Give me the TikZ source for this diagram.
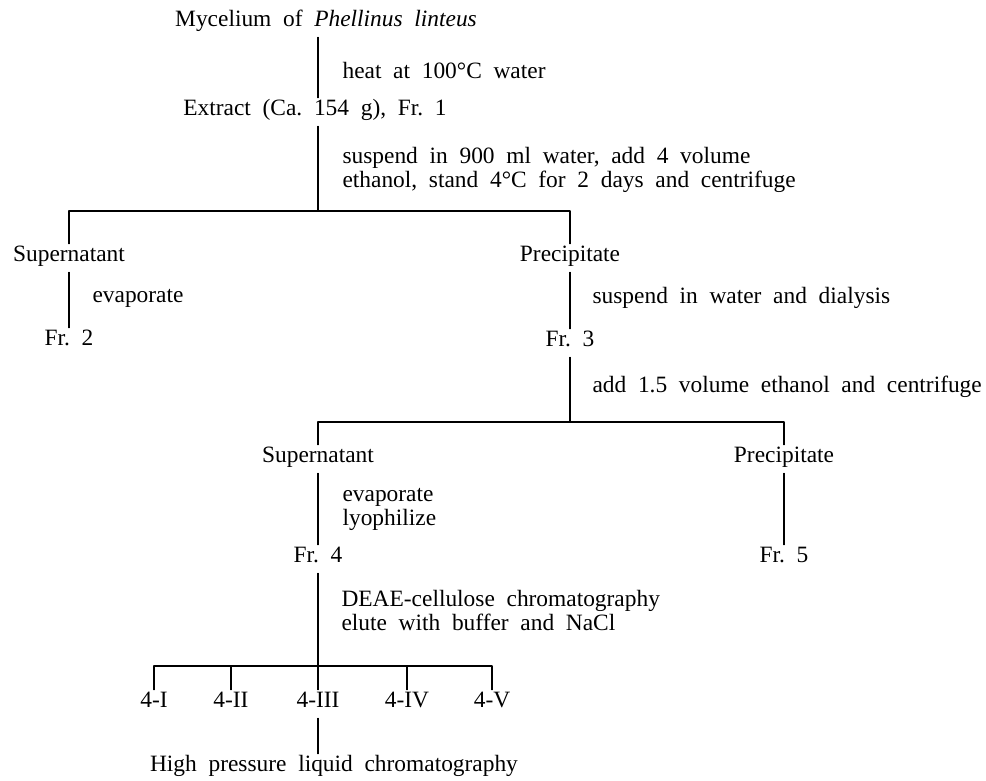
\documentclass[tikz,border=0pt]{standalone}
\usepackage{fontspec}
\setmainfont{Liberation Serif}[WordSpace=2]
\begin{document}
\begin{tikzpicture}[x=1pt, y=-1pt, line width=1.1pt, line join=round, line cap=round,
	font=\fontsize{23.4}{24}\selectfont,
	txt/.style={inner sep=0pt, text height=0.66em, text depth=0pt, outer ysep=11pt},
	note/.style={inner sep=0pt, anchor=west, align=left}]
	\useasboundingbox (0,0) rectangle (986,780);
	\node[txt] (myc) at (326,23) {Mycelium of \textit{Phellinus linteus}};
	\node[txt] (fr1) at (315,112) {Extract (Ca.\ 154 g), Fr.\ 1};
	\node[txt] (sup1) at (69,258) {Supernatant};
	\node[txt] (pre1) at (570,258) {Precipitate};
	\node[txt] (fr2) at (69,342) {Fr.\ 2};
	\node[txt] (fr3) at (570,343) {Fr.\ 3};
	\node[txt] (sup2) at (318,459) {Supernatant};
	\node[txt] (pre2) at (784,459) {Precipitate};
	\node[txt] (fr4) at (318,559) {Fr.\ 4};
	\node[txt] (fr5) at (784,559) {Fr.\ 5};
	\foreach \n/\x/\lab in {a/154/4-I, b/231/4-II, c/318/4-III, d/407/4-IV, e/492/4-V}
		\node[txt] (f4\n) at (\x,704) {\lab};
	\node[txt] (hplc) at (334,768) {High pressure liquid chromatography};
	\node[note] (heat) at (342,70) {heat at 100°C water};
	\node[note] (susp) at (342,170) {suspend in 900 ml water, add 4 volume\\ethanol, stand 4°C for 2 days and centrifuge};
	\node[note] (evap1) at (92,298) {evaporate};
	\node[note] (dial) at (592,298) {suspend in water and dialysis};
	\node[note] (etoh) at (592,387) {add 1.5 volume ethanol and centrifuge};
	\node[note] (evap2) at (342,509) {evaporate\\lyophilize};
	\node[note] (deae) at (341,610) {DEAE-cellulose chromatography\\elute with buffer and NaCl};
	\coordinate (j1) at (318,211);
	\coordinate (j2) at (570,422);
	\coordinate (j3) at (318,666);
	\draw ([xshift=-8pt]myc.south) -- ([xshift=3pt]fr1.north);
	\draw ([xshift=3pt]fr1.south) -- (j1);
	\draw (sup1.north) |- (j1) -| (pre1.north);
	\draw (sup1.south) -- (fr2.north);
	\draw (pre1.south) -- (fr3.north);
	\draw (fr3.south) -- (j2);
	\draw (sup2.north) |- (j2) -| (pre2.north);
	\draw (sup2.south) -- (fr4.north);
	\draw (pre2.south) -- (fr5.north);
	\draw (fr4.south) -- (j3);
	\draw (f4a.north) |- (j3) -| (f4e.north);
	\foreach \n in {b,c,d} \draw (f4\n.north) -- (f4\n.north |- j3);
	\draw (f4c.south) -- ([xshift=-16pt]hplc.north);
\end{tikzpicture}
\end{document}
